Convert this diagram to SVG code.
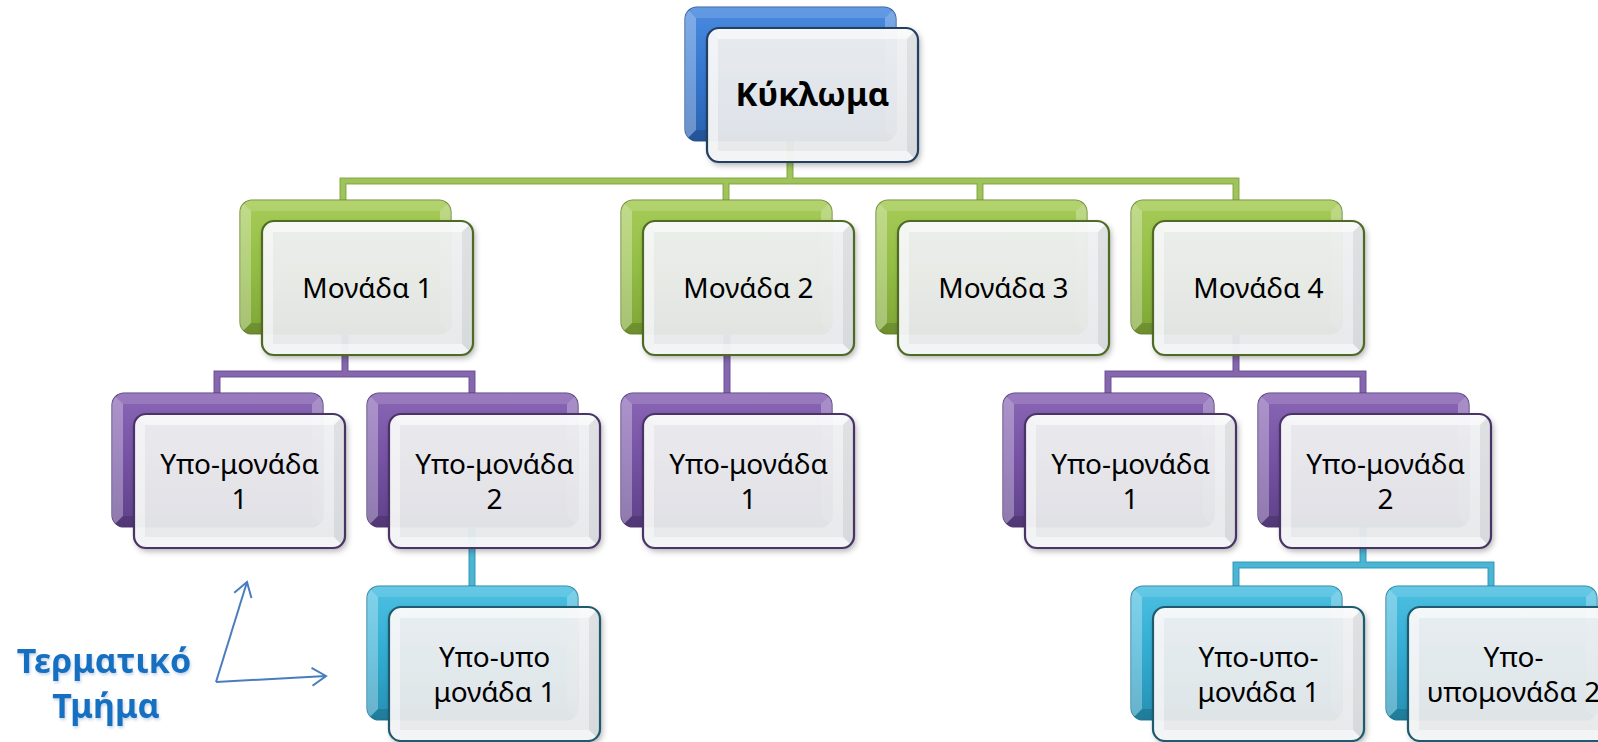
<svg xmlns="http://www.w3.org/2000/svg" xmlns:xlink="http://www.w3.org/1999/xlink" width="1598" height="742" viewBox="0 0 1598 742">
  <style>
    .lbl { font-family: "Noto Sans", "Open Sans", "DejaVu Sans", sans-serif; font-size: 28px; fill: #000; text-anchor: middle; }
    .root-lbl { font-weight: bold; font-size: 33px; }
    .front { fill: url(#gFront); fill-opacity: 0.93; filter: url(#shadow); }
    .edge { fill: none; stroke-width: 2.2; }
    .back { stroke-width: 1.2; }
    .blue { fill: url(#gBlue); stroke: #2a5c9c; }
    .green { fill: url(#gGreen); stroke: #6f8d34; }
    .purple { fill: url(#gPurple); stroke: #553d7c; }
    .teal { fill: url(#gTeal); stroke: #2482a2; }
    .e-blue { stroke: #233f62; }
    .e-green { stroke: #4f6a24; }
    .e-purple { stroke: #4a3366; }
    .e-teal { stroke: #1e5b6e; }
    .wire-o { fill: none; stroke-width: 7; stroke-linejoin: miter; }
    .wire-i { fill: none; stroke-width: 4.5; stroke-linejoin: miter; }
    .w-green.wire-o { stroke: #8aad48; }
    .w-green.wire-i { stroke: #9fc45c; }
    .w-purple.wire-o { stroke: #73569c; }
    .w-purple.wire-i { stroke: #8467ad; }
    .w-teal.wire-o { stroke: #3a9fbe; }
    .w-teal.wire-i { stroke: #4db5d4; }
    .note { font-family: "Noto Sans", "Open Sans", "DejaVu Sans", sans-serif; font-weight: bold; font-size: 34px; fill: #1770c2; text-anchor: middle; filter: url(#textShadow); }
    .pointer { fill: none; stroke: #4a7dbd; stroke-width: 2; marker-end: url(#openArrow); }
  </style>
  <defs>
    <linearGradient id="gFront" x1="0" y1="0" x2="0" y2="1">
      <stop offset="0" stop-color="#f2f3f4"/>
      <stop offset="1" stop-color="#e8eaec"/>
    </linearGradient>
    <linearGradient id="gBlue" x1="0" y1="0" x2="0" y2="1">
      <stop offset="0" stop-color="#4a8ae0"/>
      <stop offset="0.5" stop-color="#3577cf"/>
      <stop offset="1" stop-color="#2a62b0"/>
    </linearGradient>
    <linearGradient id="gGreen" x1="0" y1="0" x2="0" y2="1">
      <stop offset="0" stop-color="#a7cc58"/>
      <stop offset="0.5" stop-color="#93bd45"/>
      <stop offset="1" stop-color="#7fa636"/>
    </linearGradient>
    <linearGradient id="gPurple" x1="0" y1="0" x2="0" y2="1">
      <stop offset="0" stop-color="#8a66b5"/>
      <stop offset="0.5" stop-color="#7552a3"/>
      <stop offset="1" stop-color="#5f4189"/>
    </linearGradient>
    <linearGradient id="gTeal" x1="0" y1="0" x2="0" y2="1">
      <stop offset="0" stop-color="#4cc0e2"/>
      <stop offset="0.5" stop-color="#33acd2"/>
      <stop offset="1" stop-color="#2590b3"/>
    </linearGradient>
    <filter id="shadow" x="-10%" y="-10%" width="125%" height="130%">
      <feDropShadow dx="2" dy="3" stdDeviation="3" flood-color="#000" flood-opacity="0.35"/>
    </filter>
    <filter id="textShadow" x="-10%" y="-20%" width="120%" height="150%">
      <feDropShadow dx="1" dy="2" stdDeviation="1.5" flood-color="#7f9fc4" flood-opacity="0.45"/>
    </filter>
    <clipPath id="boxClip">
      <rect width="211" height="134" rx="12"/>
    </clipPath>
    <!-- bevel faces for the coloured back plate -->
    <symbol id="bevelBack" overflow="visible">
      <g clip-path="url(#boxClip)">
        <polygon points="0,0 211,0 200,11 11,11" fill="#fff" fill-opacity="0.14"/>
        <polygon points="0,0 11,11 11,123 0,134" fill="#fff" fill-opacity="0.3"/>
        <polygon points="211,0 211,134 200,123 200,11" fill="#fff" fill-opacity="0.28"/>
        <polygon points="0,134 211,134 200,123 11,123" fill="#000" fill-opacity="0.14"/>
      </g>
    </symbol>
    <!-- bevel faces for the light front plate -->
    <symbol id="bevelFront" overflow="visible">
      <g clip-path="url(#boxClip)">
        <polygon points="0,0 211,0 200,11 11,11" fill="#fff" fill-opacity="0.55"/>
        <polygon points="0,0 11,11 11,123 0,134" fill="#fff" fill-opacity="0.45"/>
        <polygon points="211,0 211,134 200,123 200,11" fill="#9aa0a4" fill-opacity="0.2"/>
        <polygon points="0,134 211,134 200,123 11,123" fill="#fff" fill-opacity="0.5"/>
      </g>
    </symbol>
    <marker id="openArrow" markerWidth="22" markerHeight="22" refX="17" refY="11" orient="auto" markerUnits="userSpaceOnUse">
      <path d="M3,2 L17,11 L3,20" fill="none" stroke="#4a7dbd" stroke-width="2"/>
    </marker>
  </defs>

  <rect width="1598" height="742" fill="#fff"/>

  <!-- connectors -->
  <g id="connectors">
    <path class="wire-o w-green" d="M790,141 V181 M343,200 V181 H1236 V200 M726,181 V200 M980,181 V200"/>
    <path class="wire-i w-green" d="M790,141 V181 M343,200 V181 H1236 V200 M726,181 V200 M980,181 V200"/>
    <path class="wire-o w-purple" d="M345,334 V374 M217,393 V374 H472 V393 M727,334 V393 M1236,334 V374 M1108,393 V374 H1363 V393"/>
    <path class="wire-i w-purple" d="M345,334 V374 M217,393 V374 H472 V393 M727,334 V393 M1236,334 V374 M1108,393 V374 H1363 V393"/>
    <path class="wire-o w-teal" d="M472,527 V586 M1363,527 V565 M1236,586 V565 H1491 V586"/>
    <path class="wire-i w-teal" d="M472,527 V586 M1363,527 V565 M1236,586 V565 H1491 V586"/>
  </g>

  <!-- root -->
  <g id="n-root" transform="translate(685,7)">
    <rect class="back blue" width="211" height="134" rx="12"/>
    <use href="#bevelBack"/>
    <rect class="front" x="22" y="21" width="211" height="134" rx="12"/>
    <use href="#bevelFront" x="22" y="21"/>
    <rect class="edge e-blue" x="22" y="21" width="211" height="134" rx="12"/>
    <text class="lbl root-lbl" x="127.5" y="99">Κύκλωμα</text>
  </g>

  <!-- level 1 -->
  <g id="n-m1" transform="translate(240,200)">
    <rect class="back green" width="211" height="134" rx="12"/>
    <use href="#bevelBack"/>
    <rect class="front" x="22" y="21" width="211" height="134" rx="12"/>
    <use href="#bevelFront" x="22" y="21"/>
    <rect class="edge e-green" x="22" y="21" width="211" height="134" rx="12"/>
    <text class="lbl" x="127.5" y="98">Μονάδα 1</text>
  </g>
  <g id="n-m2" transform="translate(621,200)">
    <rect class="back green" width="211" height="134" rx="12"/>
    <use href="#bevelBack"/>
    <rect class="front" x="22" y="21" width="211" height="134" rx="12"/>
    <use href="#bevelFront" x="22" y="21"/>
    <rect class="edge e-green" x="22" y="21" width="211" height="134" rx="12"/>
    <text class="lbl" x="127.5" y="98">Μονάδα 2</text>
  </g>
  <g id="n-m3" transform="translate(876,200)">
    <rect class="back green" width="211" height="134" rx="12"/>
    <use href="#bevelBack"/>
    <rect class="front" x="22" y="21" width="211" height="134" rx="12"/>
    <use href="#bevelFront" x="22" y="21"/>
    <rect class="edge e-green" x="22" y="21" width="211" height="134" rx="12"/>
    <text class="lbl" x="127.5" y="98">Μονάδα 3</text>
  </g>
  <g id="n-m4" transform="translate(1131,200)">
    <rect class="back green" width="211" height="134" rx="12"/>
    <use href="#bevelBack"/>
    <rect class="front" x="22" y="21" width="211" height="134" rx="12"/>
    <use href="#bevelFront" x="22" y="21"/>
    <rect class="edge e-green" x="22" y="21" width="211" height="134" rx="12"/>
    <text class="lbl" x="127.5" y="98">Μονάδα 4</text>
  </g>

  <!-- level 2 -->
  <g id="n-s11" transform="translate(112,393)">
    <rect class="back purple" width="211" height="134" rx="12"/>
    <use href="#bevelBack"/>
    <rect class="front" x="22" y="21" width="211" height="134" rx="12"/>
    <use href="#bevelFront" x="22" y="21"/>
    <rect class="edge e-purple" x="22" y="21" width="211" height="134" rx="12"/>
    <text class="lbl" x="127.5" y="81">Υπο-μονάδα</text>
    <text class="lbl" x="127.5" y="116">1</text>
  </g>
  <g id="n-s12" transform="translate(367,393)">
    <rect class="back purple" width="211" height="134" rx="12"/>
    <use href="#bevelBack"/>
    <rect class="front" x="22" y="21" width="211" height="134" rx="12"/>
    <use href="#bevelFront" x="22" y="21"/>
    <rect class="edge e-purple" x="22" y="21" width="211" height="134" rx="12"/>
    <text class="lbl" x="127.5" y="81">Υπο-μονάδα</text>
    <text class="lbl" x="127.5" y="116">2</text>
  </g>
  <g id="n-s21" transform="translate(621,393)">
    <rect class="back purple" width="211" height="134" rx="12"/>
    <use href="#bevelBack"/>
    <rect class="front" x="22" y="21" width="211" height="134" rx="12"/>
    <use href="#bevelFront" x="22" y="21"/>
    <rect class="edge e-purple" x="22" y="21" width="211" height="134" rx="12"/>
    <text class="lbl" x="127.5" y="81">Υπο-μονάδα</text>
    <text class="lbl" x="127.5" y="116">1</text>
  </g>
  <g id="n-s41" transform="translate(1003,393)">
    <rect class="back purple" width="211" height="134" rx="12"/>
    <use href="#bevelBack"/>
    <rect class="front" x="22" y="21" width="211" height="134" rx="12"/>
    <use href="#bevelFront" x="22" y="21"/>
    <rect class="edge e-purple" x="22" y="21" width="211" height="134" rx="12"/>
    <text class="lbl" x="127.5" y="81">Υπο-μονάδα</text>
    <text class="lbl" x="127.5" y="116">1</text>
  </g>
  <g id="n-s42" transform="translate(1258,393)">
    <rect class="back purple" width="211" height="134" rx="12"/>
    <use href="#bevelBack"/>
    <rect class="front" x="22" y="21" width="211" height="134" rx="12"/>
    <use href="#bevelFront" x="22" y="21"/>
    <rect class="edge e-purple" x="22" y="21" width="211" height="134" rx="12"/>
    <text class="lbl" x="127.5" y="81">Υπο-μονάδα</text>
    <text class="lbl" x="127.5" y="116">2</text>
  </g>

  <!-- level 3 -->
  <g id="n-t121" transform="translate(367,586)">
    <rect class="back teal" width="211" height="134" rx="12"/>
    <use href="#bevelBack"/>
    <rect class="front" x="22" y="21" width="211" height="134" rx="12"/>
    <use href="#bevelFront" x="22" y="21"/>
    <rect class="edge e-teal" x="22" y="21" width="211" height="134" rx="12"/>
    <text class="lbl" x="127.5" y="81">Υπο-υπο</text>
    <text class="lbl" x="127.5" y="116">μονάδα 1</text>
  </g>
  <g id="n-t421" transform="translate(1131,586)">
    <rect class="back teal" width="211" height="134" rx="12"/>
    <use href="#bevelBack"/>
    <rect class="front" x="22" y="21" width="211" height="134" rx="12"/>
    <use href="#bevelFront" x="22" y="21"/>
    <rect class="edge e-teal" x="22" y="21" width="211" height="134" rx="12"/>
    <text class="lbl" x="127.5" y="81">Υπο-υπο-</text>
    <text class="lbl" x="127.5" y="116">μονάδα 1</text>
  </g>
  <g id="n-t422" transform="translate(1386,586)">
    <rect class="back teal" width="211" height="134" rx="12"/>
    <use href="#bevelBack"/>
    <rect class="front" x="22" y="21" width="211" height="134" rx="12"/>
    <use href="#bevelFront" x="22" y="21"/>
    <rect class="edge e-teal" x="22" y="21" width="211" height="134" rx="12"/>
    <text class="lbl" x="127.5" y="81">Υπο-</text>
    <text class="lbl" x="127.5" y="116">υπομονάδα 2</text>
  </g>

  <!-- terminal-part annotation -->
  <g id="note">
    <text class="note" x="104" y="673">Τερματικό</text>
    <text class="note" x="106" y="718">Τμήμα</text>
    <path class="pointer" d="M216,682 L247,582"/>
    <path class="pointer" d="M216,682 L326,676"/>
  </g>
</svg>
